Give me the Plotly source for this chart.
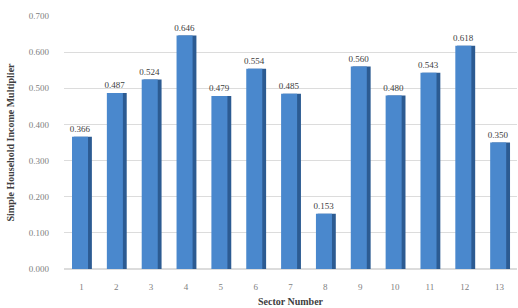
import plotly.graph_objects as go

sectors = [str(i) for i in range(1, 14)]
multipliers = [0.366, 0.487, 0.524, 0.646, 0.479, 0.554, 0.485, 0.153, 0.560, 0.480, 0.543, 0.618, 0.350]
y_ticks = [0.0, 0.1, 0.2, 0.3, 0.4, 0.5, 0.6, 0.7]

font_family = "Liberation Serif, Times New Roman, serif"

fig = go.Figure()
# darker side face for a slight 3D look
fig.add_trace(go.Bar(
    x=sectors, y=multipliers, width=0.52, offset=-0.22,
    marker=dict(color="#2c5b92", line=dict(width=0)),
    hoverinfo="skip", showlegend=False,
))
# front face with labels
fig.add_trace(go.Bar(
    x=sectors, y=multipliers, width=0.46, offset=-0.27,
    marker=dict(color="#4a88cd", line=dict(width=0)),
    text=[f"{v:.3f}" for v in multipliers], textposition="outside",
    constraintext="none",
    textfont=dict(family=font_family, size=9, color="#404040"),
    cliponaxis=False, showlegend=False,
))

fig.update_layout(
    width=518, height=308,
    margin=dict(l=64, r=1, t=16, b=39),
    barmode="overlay",
    paper_bgcolor="white", plot_bgcolor="white",
    font=dict(family=font_family, size=9, color="#808080"),
    xaxis=dict(
        type="category", showgrid=False, showline=False, ticks="",
        ticklabelstandoff=11, automargin=False,
        title=dict(text="<b>Sector Number</b>", font=dict(family=font_family, size=10, color="#404040"), standoff=6),
    ),
    yaxis=dict(
        range=[0, 0.7], tickvals=y_ticks, tickformat=".3f",
        showgrid=True, gridcolor="#dcdcdc", gridwidth=1, zeroline=True, zerolinecolor="#dcdcdc",
        ticklabelstandoff=14, automargin=False,
        title=dict(text="<b>Simple Household Income Multiplier</b>", font=dict(family=font_family, size=10, color="#404040"), standoff=12),
    ),
)

fig.write_html("out.html", config={"displayModeBar": False},
               post_script="document.body.style.margin='0';")
